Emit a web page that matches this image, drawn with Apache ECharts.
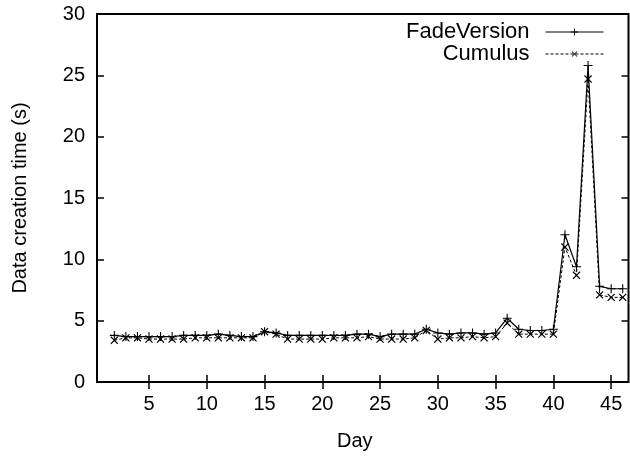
<!DOCTYPE html>
<html>
<head>
<meta charset="utf-8">
<script src="https://cdn.jsdelivr.net/npm/echarts@6/dist/echarts.min.js"></script>
<style>
  html, body { margin: 0; padding: 0; background: #fff; }
  #chart { width: 630px; height: 456px; }
</style>
</head>
<body>
<div id="chart"></div>
<script>
// data
const days = [2, 3, 4, 5, 6, 7, 8, 9, 10, 11, 12, 13, 14, 15, 16, 17, 18, 19, 20, 21, 22, 23, 24,
    25, 26, 27, 28, 29, 30, 31, 32, 33, 34, 35, 36, 37, 38, 39, 40, 41, 42, 43, 44, 45, 46];
const fadeVersion = [3.8, 3.7, 3.7, 3.7, 3.7, 3.7, 3.8, 3.8, 3.8, 3.9, 3.8, 3.7, 3.7, 4.1, 4.0, 3.8,
    3.8, 3.8, 3.8, 3.8, 3.8, 3.9, 3.9, 3.7, 3.9, 3.9, 3.9, 4.3, 4.0, 3.9, 4.0, 4.0, 3.9, 4.0, 5.2,
    4.3, 4.2, 4.2, 4.3, 12.0, 9.4, 25.8, 7.8, 7.6, 7.6];
const cumulus = [3.4, 3.6, 3.6, 3.5, 3.5, 3.5, 3.5, 3.6, 3.6, 3.6, 3.6, 3.6, 3.6, 4.1, 3.9, 3.5,
    3.5, 3.5, 3.5, 3.6, 3.6, 3.6, 3.7, 3.5, 3.5, 3.5, 3.6, 4.2, 3.5, 3.6, 3.6, 3.7, 3.6, 3.7, 4.8,
    3.9, 3.9, 3.9, 3.9, 11.0, 8.7, 24.7, 7.1, 6.9, 6.9];
const xTicks = [5, 10, 15, 20, 25, 30, 35, 40, 45];
const seriesNames = ['FadeVersion', 'Cumulus'];

const FONT = '"Liberation Sans", Arial, sans-serif';
const plus = 'path://M4.4,0H5.6V4.4H10V5.6H5.6V10H4.4V5.6H0V4.4H4.4Z';

function pairs(vals) {
    return days.map((d, i) => [d, vals[i]]);
}

let myChart = echarts.init(document.getElementById('chart'));

let xBase = {
    type: 'value',
    min: 0.5,
    max: 46.5,
    splitLine: { show: false },
    axisLine: { show: false },
    axisTick: { show: true, inside: true, length: 7, customValues: xTicks,
        lineStyle: { color: '#000', width: 1.5 } }
};
let yBase = {
    type: 'value',
    min: 0,
    max: 30,
    interval: 5,
    splitLine: { show: false },
    axisLine: { show: false },
    axisTick: { show: true, inside: true, length: 7, lineStyle: { color: '#000', width: 1.5 } }
};

let option = {
    backgroundColor: '#fff',
    animation: false,
    grid: {
        left: 97, right: 1.5, top: 14, bottom: 72,
        show: true, borderColor: '#000', borderWidth: 2, backgroundColor: 'transparent'
    },
    legend: {
        orient: 'vertical',
        right: 26,
        top: 21,
        align: 'right',
        itemWidth: 58,
        itemHeight: 9,
        itemGap: 0,
        padding: 0,
        symbolRotate: 'inherit',
        lineStyle: { width: 1 },
        textStyle: { color: '#000', fontSize: 22, fontFamily: FONT, padding: [0, 11, 0, 0] },
        data: seriesNames
    },
    xAxis: [
        Object.assign({}, xBase, {
            position: 'bottom',
            name: 'Day',
            nameLocation: 'middle',
            nameGap: 49,
            nameTextStyle: { color: '#000', fontSize: 20, fontFamily: FONT, padding: [0, 16, 0, 0] },
            axisLabel: { show: true, customValues: xTicks, color: '#000', fontSize: 20,
                fontFamily: FONT, margin: 12 }
        }),
        Object.assign({}, xBase, { position: 'top', axisLabel: { show: false } })
    ],
    yAxis: [
        Object.assign({}, yBase, {
            position: 'left',
            name: 'Data creation time (s)',
            nameLocation: 'middle',
            nameGap: 67,
            nameTextStyle: { color: '#000', fontSize: 20, fontFamily: FONT },
            axisLabel: { color: '#000', fontSize: 20, fontFamily: FONT, margin: 12 }
        }),
        Object.assign({}, yBase, { position: 'right', axisLabel: { show: false } })
    ],
    series: [
        {
            name: seriesNames[0],
            type: 'line',
            data: pairs(fadeVersion),
            symbol: plus,
            symbolSize: 9,
            showAllSymbol: true,
            itemStyle: { color: '#000' },
            lineStyle: { color: '#000', width: 1.2 }
        },
        {
            name: seriesNames[1],
            type: 'line',
            data: pairs(cumulus),
            symbol: plus,
            symbolSize: 10,
            symbolRotate: 45,
            showAllSymbol: true,
            itemStyle: { color: '#000' },
            lineStyle: { color: '#000', width: 1, type: [3, 2] }
        }
    ]
};
myChart.setOption(option);
</script>
</body>
</html>
